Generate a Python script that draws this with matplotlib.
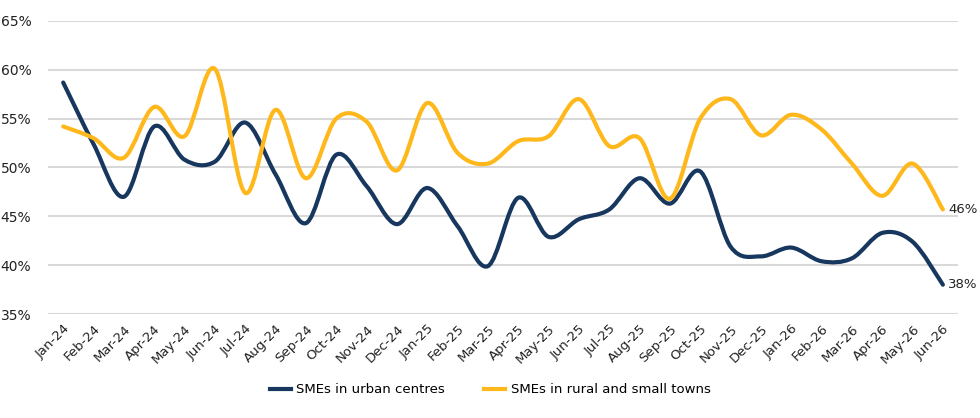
import numpy as np
import matplotlib
matplotlib.use("Agg")
from matplotlib import pyplot as plt
from matplotlib.path import Path
from matplotlib.patches import PathPatch
from matplotlib.lines import Line2D

months = ["Jan-24", "Feb-24", "Mar-24", "Apr-24", "May-24", "Jun-24", "Jul-24", "Aug-24",
          "Sep-24", "Oct-24", "Nov-24", "Dec-24", "Jan-25", "Feb-25", "Mar-25", "Apr-25",
          "May-25", "Jun-25", "Jul-25", "Aug-25", "Sep-25", "Oct-25", "Nov-25", "Dec-25",
          "Jan-26", "Feb-26", "Mar-26", "Apr-26", "May-26", "Jun-26"]

urban = [58.7, 52.4, 47.0, 54.2, 50.8, 50.6, 54.6, 49.3, 44.3, 51.3, 48.1, 44.2,
         47.9, 44.0, 39.9, 46.9, 42.9, 44.7, 45.7, 48.9, 46.3, 49.6, 41.9, 40.9,
         41.8, 40.4, 40.7, 43.3, 42.4, 38.0]

rural = [54.2, 53.0, 51.0, 56.2, 53.2, 60.1, 47.4, 55.9, 48.9, 55.0, 54.7, 49.7,
         56.6, 51.5, 50.4, 52.7, 53.2, 57.0, 52.2, 53.0, 46.8, 55.0, 57.0, 53.3,
         55.4, 53.9, 50.4, 47.1, 50.4, 45.7]

series_names = ["SMEs in urban centres", "SMEs in rural and small towns"]
colors = ["#17375E", "#FFB81C"]


# Excel-style smoothed line: cubic Bezier segments through the data points
def smooth_path(xs, ys):
    pts = np.column_stack([xs, ys])
    n = len(pts)
    verts = [pts[0]]
    codes = [Path.MOVETO]
    for i in range(n - 1):
        p0 = pts[i - 1] if i > 0 else pts[i]
        p1 = pts[i]
        p2 = pts[i + 1]
        p3 = pts[i + 2] if i + 2 < n else pts[i + 1]
        c1 = p1 + (p2 - p0) / 6.0
        c2 = p2 - (p3 - p1) / 6.0
        verts += [c1, c2, p2]
        codes += [Path.CURVE4] * 3
    return Path(verts, codes)


fig = plt.figure(figsize=(9.8, 4.18), dpi=100)
ax = fig.add_axes([0.049, 0.2488, 0.9286, 0.701])

x = np.arange(len(months))
for vals, col in zip([urban, rural], colors):
    patch = PathPatch(smooth_path(x, vals), fill=False, edgecolor=col, lw=3.0,
                      capstyle="round", joinstyle="round", zorder=3)
    ax.add_patch(patch)

ax.set_xlim(-0.5, len(months) - 0.5)
ax.set_ylim(35, 65)
ax.set_yticks(np.arange(35, 66, 5))
ax.set_yticklabels([f"{v}%" for v in range(35, 66, 5)], fontsize=10, color="#222222")
ax.set_xticks(x)
ax.set_xticklabels(months, rotation=45, ha="right", rotation_mode="anchor",
                   fontsize=9.5, color="#222222")
ax.tick_params(length=0, pad=6)
ax.tick_params(axis="y", pad=12)
ax.grid(axis="y", color="#d9d9d9", lw=1.5)
ax.set_axisbelow(True)
for s in ax.spines.values():
    s.set_visible(False)

for vals in (rural, urban):
    ax.annotate(f"{vals[-1]:.0f}%", (x[-1], vals[-1]), xytext=(4, 0), textcoords="offset points",
                va="center", ha="left", fontsize=9.5, color="#222222", annotation_clip=False)

handles = [Line2D([], [], color=c, lw=3) for c in colors]
fig.legend(handles, series_names, loc="center", bbox_to_anchor=(0.5, 0.067), ncol=2,
           frameon=False, fontsize=9.5, handlelength=1.6, handletextpad=0.4,
           columnspacing=3.0)

fig.savefig("out.png", dpi=100)
